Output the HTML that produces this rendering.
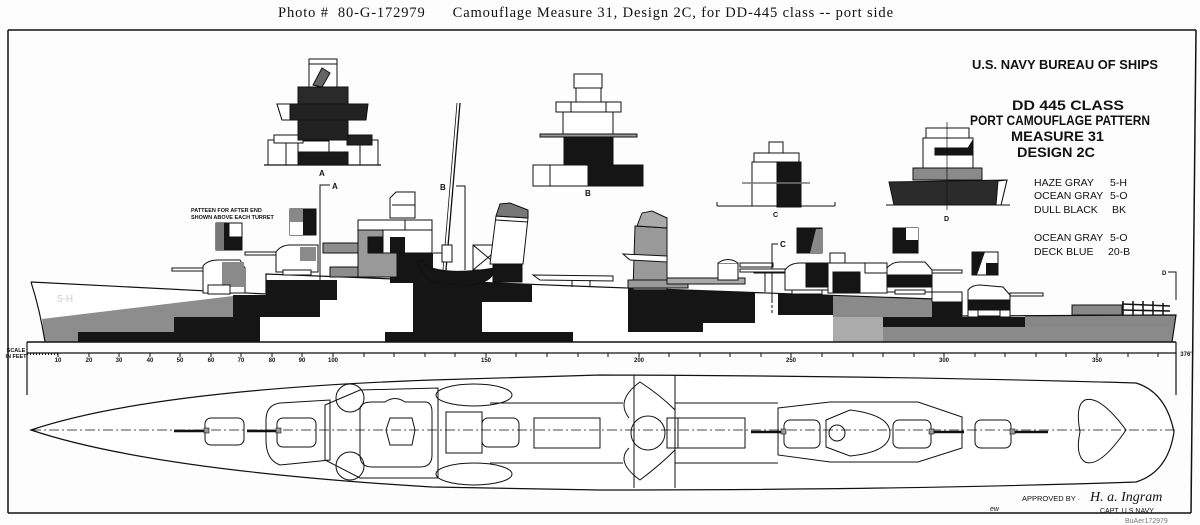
<!DOCTYPE html>
<html><head><meta charset="utf-8"><style>
html,body{margin:0;padding:0;background:#fff;}
svg{display:block}
.h{font-family:"Liberation Sans",sans-serif;font-weight:bold;fill:#111}
</style></head><body>
<svg width="1200" height="525" viewBox="0 0 1200 525" xmlns="http://www.w3.org/2000/svg">
<rect width="1200" height="525" fill="#fdfdfd"/>
<text x="278" y="17" style="white-space:pre" textLength="615" lengthAdjust="spacing" font-family="Liberation Serif,serif" font-size="14.5" fill="#111">Photo #  80-G-172979      Camouflage Measure 31, Design 2C, for DD-445 class -- port side</text>
<!-- frame -->
<g stroke="#111" fill="none" stroke-width="1.5">
<line x1="8" y1="30" x2="1196" y2="30"/>
<line x1="8" y1="30" x2="8" y2="513"/>
<line x1="1196" y1="30" x2="1191" y2="513"/>
<line x1="8" y1="513" x2="1191" y2="513"/>
</g>
<!-- title block -->
<g class="h" font-weight="normal">
<text x="972" y="69" font-size="13" textLength="186" lengthAdjust="spacingAndGlyphs">U.S. NAVY     BUREAU OF SHIPS</text>
<text x="1012" y="110" font-size="14" font-weight="bold" textLength="112" lengthAdjust="spacingAndGlyphs">DD 445  CLASS</text>
<text x="970" y="125" font-size="14" font-weight="bold" textLength="180" lengthAdjust="spacingAndGlyphs">PORT  CAMOUFLAGE  PATTERN</text>
<text x="1011" y="141" font-size="14" font-weight="bold" textLength="93" lengthAdjust="spacingAndGlyphs">MEASURE 31</text>
<text x="1017" y="157" font-size="14" font-weight="bold" textLength="78" lengthAdjust="spacingAndGlyphs">DESIGN  2C</text>
<g font-size="10.5" font-weight="normal">
<text x="1034" y="186">HAZE  GRAY</text><text x="1110" y="186">5-H</text>
<text x="1034" y="199">OCEAN GRAY</text><text x="1110" y="199">5-O</text>
<text x="1034" y="213">DULL  BLACK</text><text x="1112" y="213">BK</text>
<text x="1034" y="241">OCEAN GRAY</text><text x="1110" y="241">5-O</text>
<text x="1034" y="255">DECK  BLUE</text><text x="1108" y="255">20-B</text>
</g>
</g>
<!-- Section A -->
<g stroke="#111" stroke-width="1">
<rect x="268" y="140" width="110" height="25" fill="#fff"/>
<line x1="286" y1="140" x2="286" y2="165"/><line x1="360" y1="140" x2="360" y2="165"/>
<rect x="298" y="152" width="50" height="13" fill="#1a1a1a"/>
<rect x="298" y="141" width="31" height="11" fill="#fff"/>
<rect x="274" y="135" width="29" height="8" fill="#fff"/>
<rect x="347" y="135" width="25" height="10" fill="#222"/>
<rect x="298" y="120" width="50" height="20" fill="#222"/>
<polygon points="277,104 368,104 366,120 282,120" fill="#222"/>
<polygon points="277,104 290,104 290,120 282,120" fill="#fff"/>
<rect x="298" y="87" width="50" height="17" fill="#2a2a2a"/>
<rect x="309" y="59" width="28" height="28" fill="#fff"/>
<line x1="309" y1="64" x2="337" y2="64"/>
<polygon points="313,85 322,68 330,73 322,87" fill="#666"/>
<line x1="264" y1="165" x2="381" y2="165" stroke-width="1.3"/>
</g>
<text x="319" y="176" class="h" font-size="8">A</text>
<!-- Section B -->
<g stroke="#111" stroke-width="1">
<rect x="533" y="165" width="55" height="21" fill="#fff"/><line x1="550" y1="165" x2="550" y2="186"/>
<polygon points="564,137 613,137 613,165 643,165 643,186 588,186 588,165 564,165" fill="#151515"/>
<rect x="540" y="134" width="97" height="3" fill="#999"/>
<rect x="563" y="112" width="50" height="22" fill="#fff"/>
<rect x="556" y="102" width="65" height="10" fill="#fff"/><line x1="571" y1="102" x2="571" y2="112"/><line x1="606" y1="102" x2="606" y2="112"/>
<rect x="576" y="88" width="25" height="14" fill="#fff"/>
<rect x="574" y="74" width="28" height="14" fill="#fff"/>
<line x1="533" y1="186" x2="643" y2="186"/>
</g>
<text x="585" y="196" class="h" font-size="8">B</text>
<!-- Section C -->
<g stroke="#111" stroke-width="1">
<line x1="717" y1="206" x2="835" y2="206"/><line x1="717" y1="202" x2="717" y2="206"/><line x1="835" y1="202" x2="835" y2="206"/>
<rect x="752" y="162" width="25" height="44" fill="#fff"/>
<rect x="777" y="162" width="24" height="45" fill="#151515"/>
<rect x="754" y="153" width="45" height="9" fill="#fff"/>
<rect x="769" y="142" width="14" height="11" fill="#fff"/>
<line x1="742" y1="183" x2="810" y2="183" stroke="#777" stroke-width="1.5"/>
</g>
<text x="773" y="217" class="h" font-size="7">C</text>
<!-- Section D -->
<g stroke="#111" stroke-width="1">
<polygon points="889,182 1007,180 1001,205 894,205" fill="#2b2b2b"/>
<polygon points="998,181 1007,180 1001,205 996,205" fill="#fff"/>
<rect x="913" y="168" width="69" height="12" fill="#8a8a8a"/>
<rect x="923" y="138" width="50" height="30" fill="#fff"/>
<polygon points="935,148 968,148 973,140 973,155 935,155" fill="#151515"/>
<rect x="926" y="128" width="43" height="10" fill="#fff"/>
<line x1="886" y1="205" x2="1010" y2="205"/>
<line x1="947" y1="122" x2="947" y2="210" stroke-width="0.7"/>
</g>
<text x="944" y="221" class="h" font-size="7">D</text>

<!-- ===== PROFILE ===== -->
<defs>
<clipPath id="hull"><path d="M31,282 L266,294 L266,274 L600,287 L962,300 L962,316 L1176,315 L1172,342 L45,342 Q40,310 31,282Z"/></clipPath>
</defs>
<g clip-path="url(#hull)">
<rect x="0" y="260" width="1200" height="90" fill="#fff"/>
<polygon points="42,319 233,296 233,342 45,342" fill="#8d8d8d"/>
<rect x="78" y="332" width="96" height="10" fill="#151515"/>
<rect x="174" y="317" width="86" height="25" fill="#151515"/>
<rect x="233" y="295" width="87" height="22" fill="#151515"/>
<rect x="266" y="280" width="71" height="20" fill="#151515"/>
<rect x="385" y="332" width="188" height="10" fill="#151515"/>
<rect x="413" y="280" width="69" height="52" fill="#151515"/>
<rect x="433" y="280" width="99" height="22" fill="#151515"/>
<rect x="628" y="288" width="75" height="44" fill="#151515"/>
<rect x="703" y="288" width="52" height="35" fill="#151515"/>
<rect x="778" y="290" width="55" height="25" fill="#151515"/>
<rect x="833" y="290" width="99" height="27" fill="#8a8a8a"/>
<rect x="833" y="317" width="50" height="25" fill="#ababab"/>
<rect x="883" y="327" width="293" height="15" fill="#8a8a8a"/>
<rect x="1025" y="312" width="151" height="15" fill="#878787"/>
<rect x="883" y="317" width="142" height="10" fill="#151515"/>
<rect x="932" y="300" width="30" height="17" fill="#151515"/>
</g>
<g stroke="#111" stroke-width="1.2" fill="none">
<path d="M31,282 L266,294 L266,274 L600,287 L962,300 L962,316 L1176,315 L1172,342 M45,342 Q40,310 31,282"/>
</g>
<!-- superstructure -->
<g stroke="#111" stroke-width="1">
<rect x="390" y="253" width="43" height="30" fill="#151515" stroke="none"/>
<rect x="323" y="243" width="44" height="10" fill="#8d8d8d"/>
<rect x="330" y="267" width="33" height="10" fill="#8d8d8d"/>
<rect x="358" y="230" width="39" height="47" fill="#999"/>
<rect x="368" y="237" width="22" height="16" fill="#151515"/>
<rect x="383" y="230" width="49" height="23" fill="#fff"/>
<rect x="390" y="237" width="15" height="16" fill="#151515" stroke="none"/>
<line x1="433" y1="253" x2="443" y2="253"/>
<rect x="358" y="220" width="74" height="10" fill="#fff"/><line x1="405" y1="220" x2="405" y2="230"/>
<path d="M390,218 L390,198 L396,192 L415,192 L415,218 Z" fill="#fff"/>
<line x1="392" y1="205" x2="415" y2="205"/>
<line x1="460" y1="103" x2="446" y2="270" stroke-width="1.3"/>
<line x1="457" y1="103" x2="443" y2="270" stroke-width="0.8"/>
<rect x="442" y="245" width="10" height="17" fill="#fff"/>
<polyline points="456,186 465,186 465,270" fill="none"/>
<path d="M418,262 Q424,258 425,265 Q445,276 495,268 Q493,283 470,285 L435,283 Q420,276 418,262Z" fill="#151515"/>
<rect x="473" y="245" width="30" height="25" fill="none"/>
<line x1="473" y1="245" x2="503" y2="270"/><line x1="503" y1="245" x2="473" y2="270"/>
<rect x="493" y="264" width="29" height="18" fill="#151515"/>
<polygon points="496,216 528,218 523,264 490,264" fill="#fff"/>
<polygon points="496,216 500,204 510,203 528,210 528,218" fill="#777"/>
<line x1="496" y1="220" x2="528" y2="222"/>
<polygon points="533,275 613,276 613,281 540,280" fill="#fff"/>
<line x1="572" y1="280" x2="572" y2="287"/><line x1="590" y1="280" x2="590" y2="287"/>
<polygon points="635,226 667,228 667,290 633,290" fill="#9a9a9a"/>
<polygon points="637,226 642,213 652,211 667,218 667,228" fill="#aaa"/>
<polygon points="623,254 667,256 667,262 630,260" fill="#fff"/>
<rect x="628" y="280" width="60" height="8" fill="#999"/>
<rect x="667" y="278" width="78" height="6" fill="#aaa"/>
<rect x="718" y="263" width="20" height="17" fill="#fff"/>
<path d="M718,263 Q728,256 738,263" fill="#fff"/>
<rect x="740" y="263" width="33" height="4" fill="#fff"/>
<rect x="754" y="270" width="30" height="3" fill="#fff"/>
<line x1="765" y1="273" x2="765" y2="292"/>
<polyline points="778,244 772,244 772,300" fill="none"/>
<line x1="772" y1="300" x2="772" y2="315" stroke-dasharray="3,2"/>
<rect x="740" y="269" width="45" height="3" fill="#fff"/>
<path d="M785,290 L785,270 Q790,263 800,263 L830,263 L830,290Z" fill="#fff"/>
<rect x="806" y="263" width="24" height="24" fill="#151515"/>
<rect x="792" y="290" width="30" height="4" fill="#fff"/>
<rect x="830" y="253" width="15" height="10" fill="#fff"/>
<rect x="828" y="263" width="59" height="30" fill="#fff"/>
<rect x="833" y="272" width="27" height="21" fill="#151515"/>
<rect x="865" y="263" width="22" height="10" fill="#fff"/>
<path d="M887,292 L887,268 Q892,262 900,262 L925,262 L932,270 L932,292Z" fill="#fff"/>
<rect x="887" y="275" width="45" height="12" fill="#151515"/>
<rect x="932" y="270" width="30" height="3" fill="#fff"/>
<rect x="895" y="290" width="30" height="4" fill="#fff"/>
<rect x="932" y="292" width="30" height="10" fill="#fff"/>
<path d="M968,317 L968,290 Q972,285 980,285 L1003,287 L1010,295 L1010,317Z" fill="#fff"/>
<rect x="968" y="300" width="42" height="10" fill="#151515"/>
<rect x="1010" y="293" width="33" height="3" fill="#fff"/>
<rect x="978" y="310" width="22" height="6" fill="#fff"/>
<rect x="1072" y="305" width="50" height="10" fill="#888"/>
<g stroke-width="1.5"><line x1="1123" y1="301" x2="1123" y2="315"/><line x1="1133" y1="301" x2="1133" y2="315"/><line x1="1143" y1="301" x2="1143" y2="315"/><line x1="1153" y1="301" x2="1153" y2="315"/><line x1="1163" y1="303" x2="1163" y2="315"/><line x1="1122" y1="304" x2="1170" y2="306"/><line x1="1122" y1="310" x2="1170" y2="311"/></g>
<polyline points="1168,272 1176,272 1176,300" fill="none"/>
<rect x="172" y="268" width="37" height="3" fill="#fff"/>
<path d="M203,293 L203,266 Q208,260 218,260 L240,260 L245,268 L245,293Z" fill="#fff"/>
<rect x="222" y="262" width="22" height="25" fill="#8a8a8a" stroke="none"/>
<rect x="208" y="285" width="22" height="9" fill="#fff"/>
<rect x="245" y="252" width="36" height="3" fill="#fff"/>
<path d="M276,272 L276,252 Q281,245 290,245 L318,245 L318,272Z" fill="#fff"/>
<rect x="300" y="247" width="16" height="14" fill="#8a8a8a" stroke="none"/>
<rect x="283" y="270" width="28" height="5" fill="#fff"/>
<polyline points="330,185 320,185 320,280" fill="none"/>
<rect x="216" y="223" width="26" height="27" fill="#151515"/>
<rect x="229" y="223" width="13" height="14" fill="#fff"/>
<rect x="216" y="223" width="8" height="27" fill="#777" stroke="none"/>
<rect x="290" y="209" width="26" height="26" fill="#151515"/>
<rect x="290" y="209" width="13" height="13" fill="#888" stroke="none"/>
<rect x="290" y="222" width="13" height="13" fill="#fff" stroke="none"/>
<rect x="797" y="228" width="25" height="25" fill="#151515"/>
<polygon points="810,253 816,229 822,229 822,253" fill="#888" stroke="none"/>
<rect x="893" y="228" width="25" height="25" fill="#151515"/>
<rect x="906" y="228" width="12" height="12" fill="#fff" stroke="none"/>
<rect x="972" y="252" width="26" height="23" fill="#fff"/>
<polygon points="972,252 985,252 977,275 972,275" fill="#151515" stroke="none"/>
<rect x="986" y="263" width="12" height="12" fill="#151515" stroke="none"/>
</g>
<g class="h" font-size="8">
<text x="332" y="189">A</text><text x="440" y="190">B</text><text x="780" y="247">C</text><text x="1162" y="275" font-size="6">D</text>
<text x="191" y="212" font-size="5.5">PATTEEN FOR AFTER END</text>
<text x="191" y="219" font-size="5.5">SHOWN ABOVE EACH TURRET</text>
</g>
<text x="57" y="302" font-family="Liberation Sans,sans-serif" font-size="10" fill="#ccc">5-H</text>

<!-- ===== SCALE ===== -->
<g stroke="#111" fill="none">
<line x1="27" y1="342" x2="1176" y2="342" stroke-width="1.5"/>
<line x1="27" y1="353" x2="1176" y2="353" stroke-width="1.2"/>
<line x1="27" y1="342" x2="27" y2="395" stroke-width="1.2"/>
<line x1="1176" y1="342" x2="1176" y2="395" stroke-width="1.2"/>
<line x1="27" y1="354" x2="58" y2="354" stroke-width="2" stroke-dasharray="1,2"/>
</g>
<g stroke="#111" stroke-width="1">
<line x1="58" y1="353" x2="58" y2="357"/><line x1="89" y1="353" x2="89" y2="357"/><line x1="119" y1="353" x2="119" y2="357"/><line x1="150" y1="353" x2="150" y2="357"/><line x1="180" y1="353" x2="180" y2="357"/><line x1="211" y1="353" x2="211" y2="357"/><line x1="241" y1="353" x2="241" y2="357"/><line x1="272" y1="353" x2="272" y2="357"/><line x1="302" y1="353" x2="302" y2="357"/><line x1="333" y1="353" x2="333" y2="357"/><line x1="364" y1="353" x2="364" y2="357"/><line x1="394" y1="353" x2="394" y2="357"/><line x1="425" y1="353" x2="425" y2="357"/><line x1="455" y1="353" x2="455" y2="357"/><line x1="486" y1="353" x2="486" y2="357"/><line x1="516" y1="353" x2="516" y2="357"/><line x1="547" y1="353" x2="547" y2="357"/><line x1="578" y1="353" x2="578" y2="357"/><line x1="608" y1="353" x2="608" y2="357"/><line x1="639" y1="353" x2="639" y2="357"/><line x1="669" y1="353" x2="669" y2="357"/><line x1="700" y1="353" x2="700" y2="357"/><line x1="730" y1="353" x2="730" y2="357"/><line x1="761" y1="353" x2="761" y2="357"/><line x1="791" y1="353" x2="791" y2="357"/><line x1="822" y1="353" x2="822" y2="357"/><line x1="853" y1="353" x2="853" y2="357"/><line x1="883" y1="353" x2="883" y2="357"/><line x1="914" y1="353" x2="914" y2="357"/><line x1="944" y1="353" x2="944" y2="357"/><line x1="975" y1="353" x2="975" y2="357"/><line x1="1005" y1="353" x2="1005" y2="357"/><line x1="1036" y1="353" x2="1036" y2="357"/><line x1="1066" y1="353" x2="1066" y2="357"/><line x1="1097" y1="353" x2="1097" y2="357"/><line x1="1128" y1="353" x2="1128" y2="357"/><line x1="1158" y1="353" x2="1158" y2="357"/>
</g>
<g class="h" font-size="6" text-anchor="middle">
<text x="58" y="362">10</text><text x="89" y="362">20</text><text x="119" y="362">30</text><text x="150" y="362">40</text><text x="180" y="362">50</text><text x="211" y="362">60</text><text x="241" y="362">70</text><text x="272" y="362">80</text><text x="302" y="362">90</text><text x="333" y="362">100</text><text x="486" y="362">150</text><text x="639" y="362">200</text><text x="791" y="362">250</text><text x="944" y="362">300</text><text x="1097" y="362">350</text><text x="1186" y="356">376'</text>
<text x="16" y="352" font-size="5.5">SCALE</text><text x="16" y="358" font-size="5.5">IN FEET</text>
</g>

<!-- ===== PLAN VIEW ===== -->
<g stroke="#111" fill="none" stroke-width="1.2">
<path d="M31,430 Q150,390 432,380 L600,375 Q900,376 1136,383 Q1166,392 1174,432 Q1168,472 1136,482 Q900,490 600,490 L432,487 Q150,470 31,430Z" fill="#fff"/>
<line x1="31" y1="430" x2="1176" y2="430" stroke-width="0.7" stroke-dasharray="10,3,2,3"/>
</g>
<g stroke="#111" fill="none" stroke-width="1">
<line x1="174" y1="431" x2="207" y2="431" stroke-width="2.5"/>
<rect x="205" y="418" width="39" height="27" rx="6"/>
<line x1="247" y1="431" x2="279" y2="431" stroke-width="2.5"/>
<rect x="277" y="418" width="39" height="29" rx="6"/>
<path d="M280,403 L330,400 L330,460 L280,465 Q266,460 266,440 L266,420 Q266,405 280,403Z"/>
<circle cx="350" cy="398" r="14"/><circle cx="350" cy="466" r="14"/>
<polygon points="325,405 360,390 438,388 438,478 360,478 325,460"/>
<path d="M360,410 Q360,402 372,402 L385,402 Q395,395 405,402 L425,402 Q432,402 432,412 L432,455 Q432,467 420,467 L372,467 Q360,467 360,455Z"/>
<polygon points="390,418 412,418 415,430 412,445 390,445 386,430"/>
<ellipse cx="474" cy="395" rx="38" ry="11"/><ellipse cx="474" cy="474" rx="38" ry="11"/>
<rect x="446" y="412" width="36" height="41"/>
<rect x="482" y="418" width="37" height="29" rx="6"/>
<rect x="534" y="418" width="66" height="30"/>
<line x1="490" y1="403" x2="623" y2="403"/><line x1="490" y1="463" x2="623" y2="463"/>
<line x1="634" y1="375" x2="634" y2="488"/><line x1="675" y1="375" x2="675" y2="488"/>
<path d="M629,418 Q615,400 640,382 Q660,395 675,410 L675,450 Q660,465 640,480 Q615,462 629,448"/>
<circle cx="648" cy="433" r="17"/>
<rect x="667" y="418" width="78" height="30"/><line x1="678" y1="418" x2="678" y2="448"/>
<line x1="675" y1="403" x2="778" y2="403"/><line x1="675" y1="463" x2="778" y2="463"/>
<line x1="751" y1="432" x2="784" y2="432" stroke-width="2.5"/>
<polygon points="778,408 830,402 918,402 962,417 962,448 918,462 830,462 778,455"/>
<rect x="784" y="420" width="36" height="28" rx="6"/>
<path d="M826,420 L850,410 Q890,415 890,433 Q890,452 850,456 L826,447Z"/>
<circle cx="837" cy="433" r="8"/>
<rect x="893" y="420" width="38" height="28" rx="6"/>
<line x1="931" y1="432" x2="964" y2="432" stroke-width="2.5"/>
<rect x="975" y="420" width="36" height="28" rx="6"/>
<line x1="1011" y1="432" x2="1048" y2="432" stroke-width="2.5"/>
<path d="M1085,400 Q1100,395 1126,430 Q1100,468 1085,462 Q1075,455 1080,432 Q1075,405 1085,400Z"/>
</g>
<g fill="#999" stroke="#111" stroke-width="0.6">
<rect x="204" y="428" width="5" height="5"/><rect x="276" y="428" width="5" height="5"/><rect x="781" y="429" width="5" height="5"/><rect x="929" y="429" width="5" height="5"/><rect x="1010" y="429" width="5" height="5"/>
</g>
<g font-family="Liberation Sans,sans-serif" fill="#111">
<text x="1022" y="501" font-size="7.5">APPROVED BY ·</text>
<text x="1090" y="501" font-family="Liberation Serif,serif" font-style="italic" font-size="14">H. a. Ingram</text>
<text x="1100" y="513" font-size="7">CAPT.  U.S NAVY</text>
<text x="1125" y="523" font-size="7" fill="#777">BuAer172979</text>
<text x="990" y="511" font-size="7" font-style="italic">ew</text>
</g>
</svg>
</body></html>
